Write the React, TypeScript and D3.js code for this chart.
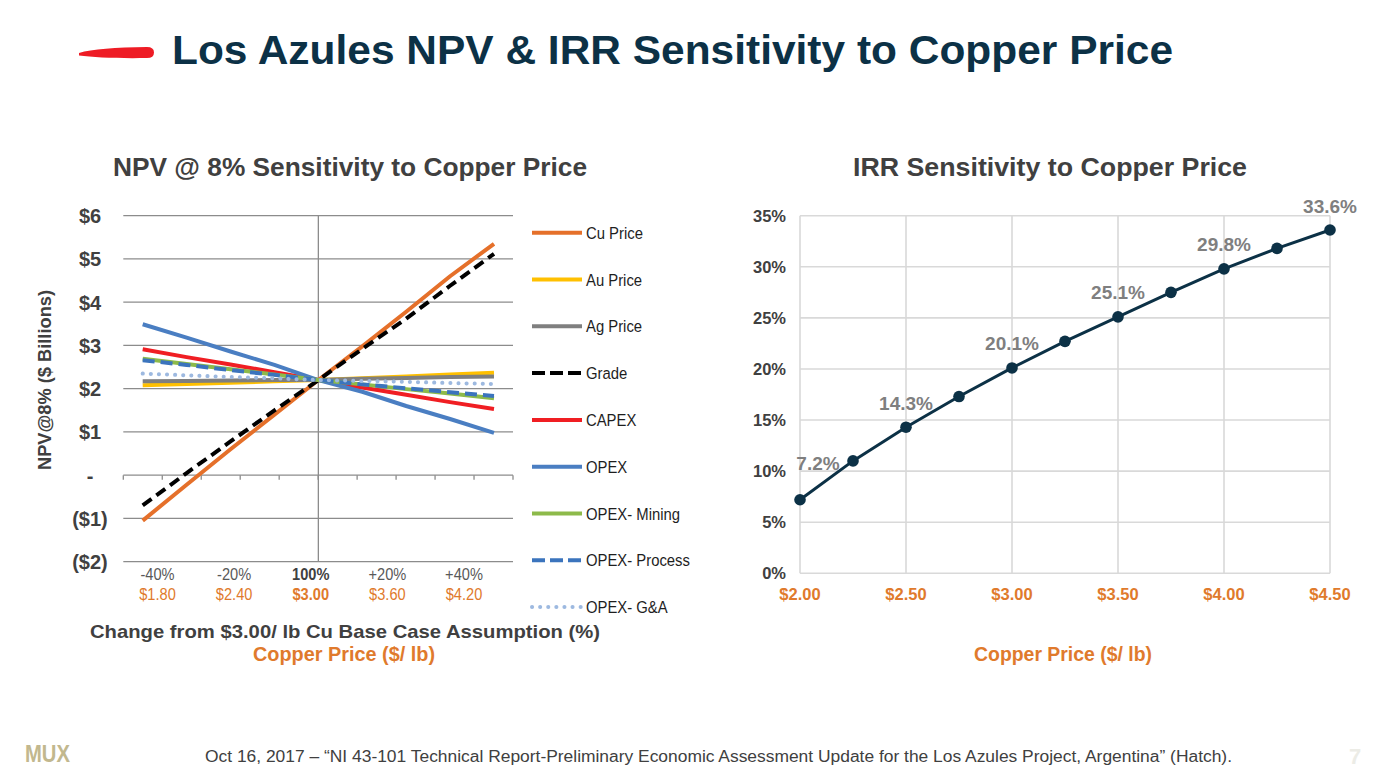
import * as d3 from "d3";

// NPV @ 8% sensitivity: change from the $3.00/lb base case (%)
const sensSteps = [-40, -30, -20, -10, 0, 10, 20, 30, 40];

// NPV ($ billions) for each sensitivity case
const cuPrice = [-1.05, -0.22, 0.6, 1.4, 2.2, 2.98, 3.78, 4.6, 5.35];
const auPrice = [2.08, 2.11, 2.14, 2.17, 2.2, 2.24, 2.28, 2.33, 2.37];
const agPrice = [2.17, 2.18, 2.19, 2.2, 2.2, 2.23, 2.25, 2.27, 2.28];
const grade = [-0.7, 0.05, 0.78, 1.5, 2.2, 2.92, 3.62, 4.38, 5.12];
const capex = [2.91, 2.73, 2.56, 2.38, 2.2, 2.03, 1.86, 1.69, 1.53];
const opex = [3.49, 3.18, 2.86, 2.55, 2.2, 1.93, 1.6, 1.3, 0.98];
const opexMining = [2.69, 2.57, 2.45, 2.33, 2.2, 2.1, 1.99, 1.89, 1.78];
const opexProcess = [2.66, 2.55, 2.43, 2.32, 2.2, 2.1, 2.01, 1.92, 1.83];
const opexGA = [2.35, 2.31, 2.27, 2.24, 2.2, 2.18, 2.16, 2.13, 2.11];

const npvTicks = [6, 5, 4, 3, 2, 1, 0, -1, -2];
const labelSteps = [-40, -20, 0, 20, 40];
const pctLabels = ["-40%", "-20%", "100%", "+20%", "+40%"];
const priceLabels = ["$1.80", "$2.40", "$3.00", "$3.60", "$4.20"];

// IRR vs copper price
const copperPrices = [2.0, 2.25, 2.5, 2.75, 3.0, 3.25, 3.5, 3.75, 4.0, 4.25, 4.5];
const irrValues = [7.2, 11.0, 14.3, 17.3, 20.1, 22.7, 25.1, 27.5, 29.8, 31.8, 33.6];
const irrLabelled = [0, 2, 4, 6, 8, 10];
const irrTicks = [0, 5, 10, 15, 20, 25, 30, 35];
const priceTicks = [2.0, 2.5, 3.0, 3.5, 4.0, 4.5];

const FONT = "'Liberation Sans', Arial, Helvetica, sans-serif";
const DARK = "#404040";
const ORANGE = "#E07A2C";
const NAVY = "#0C3146";

const series = [
  { name: "Cu Price", values: cuPrice, color: "#E5702A", dash: null },
  { name: "Au Price", values: auPrice, color: "#FFC000", dash: null },
  { name: "Ag Price", values: agPrice, color: "#7F7F7F", dash: null },
  { name: "Grade", values: grade, color: "#000000", dash: "11,6" },
  { name: "CAPEX", values: capex, color: "#F01E23", dash: null },
  { name: "OPEX", values: opex, color: "#4A7EC2", dash: null },
  { name: "OPEX- Mining", values: opexMining, color: "#8DBA4A", dash: null },
  { name: "OPEX- Process", values: opexProcess, color: "#3B74BD", dash: "12,6" },
  { name: "OPEX- G&A", values: opexGA, color: "#9DB9E0", dash: "dot" },
];

// narrow-set text (squeezed horizontally)
function Narrow({ x, y, sx = 0.88, anchor = "start", size = 16, weight = "normal", fill = "#222", children }: any) {
  return (
    <text
      transform={`translate(${x},${y}) scale(${sx},1)`}
      textAnchor={anchor}
      fontSize={size}
      fontWeight={weight}
      fill={fill}
      fontFamily={FONT}
    >
      {children}
    </text>
  );
}

function NpvChart() {
  const plotL = 123.3;
  const plotR = 513;
  const y = d3.scaleLinear().domain([-2, 6]).range([561.7, 215.7]);
  const x = d3.scaleLinear().domain([-40, 40]).range([142.7, 494]);
  const labelX = d3.scaleLinear().domain([-40, 40]).range([157.5, 464]);
  const line = d3
    .line<number>()
    .x((_, i) => x(sensSteps[i]))
    .y((d) => y(d));
  const axisTicks = d3.range(11).map((i) => plotL + (i * (plotR - plotL)) / 10);
  const fmt = (v: number) => (v > 0 ? `$${v}` : v < 0 ? `($${-v})` : "-");

  return (
    <g>
      <text x={350} y={175.7} textAnchor="middle" fontSize={26.5} fontWeight="bold" fill={DARK} fontFamily={FONT} textLength={474} lengthAdjust="spacingAndGlyphs">
        NPV @ 8% Sensitivity to Copper Price
      </text>

      {npvTicks.map((v) => (
        <g key={v}>
          <line x1={plotL} x2={plotR} y1={y(v)} y2={y(v)} stroke="#8C8C8C" strokeWidth={1.3} />
          <text x={90} y={y(v) + 7.5} textAnchor="middle" fontSize={20} fontWeight="bold" fill={DARK} fontFamily={FONT}>
            {fmt(v)}
          </text>
        </g>
      ))}
      <line x1={x(0)} x2={x(0)} y1={y(6)} y2={y(-2)} stroke="#8C8C8C" strokeWidth={1.3} />
      {axisTicks.map((t, i) => (
        <line key={i} x1={t} x2={t} y1={y(0)} y2={y(0) + 4.5} stroke="#8C8C8C" strokeWidth={1.3} />
      ))}

      {series.map((s) => (
        <path
          key={s.name}
          d={line(s.values) || ""}
          fill="none"
          stroke={s.color}
          strokeWidth={4}
          strokeDasharray={s.dash === "dot" ? "0.1,8" : s.dash || undefined}
          strokeLinecap={s.dash === "dot" ? "round" : "butt"}
          strokeLinejoin="round"
        />
      ))}

      {labelSteps.map((v, i) => (
        <g key={v}>
          <Narrow x={labelX(v)} y={580} anchor="middle" sx={0.86} size={17} weight={v === 0 ? "bold" : "normal"} fill={v === 0 ? DARK : "#595959"}>
            {pctLabels[i]}
          </Narrow>
          <Narrow x={labelX(v)} y={600} anchor="middle" sx={0.86} size={17} weight={v === 0 ? "bold" : "normal"} fill={ORANGE}>
            {priceLabels[i]}
          </Narrow>
        </g>
      ))}

      {series.map((s, i) => {
        const ly = 232.7 + i * 46.8;
        return (
          <g key={s.name}>
            <line
              x1={532}
              x2={582}
              y1={ly}
              y2={ly}
              stroke={s.color}
              strokeWidth={4}
              strokeDasharray={s.dash === "dot" ? "0.1,8" : s.dash ? "13,5" : undefined}
              strokeLinecap={s.dash === "dot" ? "round" : "butt"}
            />
            <Narrow x={586} y={ly + 6} sx={0.9} size={16.5} fill="#1E1E1E">
              {s.name}
            </Narrow>
          </g>
        );
      })}

      <text transform="translate(44,380) rotate(-90)" textAnchor="middle" dominantBaseline="central" fontSize={19} fontWeight="bold" fill={DARK} fontFamily={FONT} textLength={180} lengthAdjust="spacingAndGlyphs">
        NPV@8% ($ Billions)
      </text>
      <text x={345} y={638} textAnchor="middle" fontSize={19} fontWeight="bold" fill={DARK} fontFamily={FONT} textLength={510} lengthAdjust="spacingAndGlyphs">
        Change from $3.00/ lb Cu Base Case Assumption (%)
      </text>
      <text x={344} y={661} textAnchor="middle" fontSize={19.5} fontWeight="bold" fill={ORANGE} fontFamily={FONT} textLength={182} lengthAdjust="spacingAndGlyphs">
        Copper Price ($/ lb)
      </text>
    </g>
  );
}

function IrrChart() {
  const x = d3.scaleLinear().domain([2, 4.5]).range([800, 1330]);
  const y = d3.scaleLinear().domain([0, 35]).range([573.3, 215.7]);
  const line = d3
    .line<number>()
    .x((_, i) => x(copperPrices[i]))
    .y((d) => y(d));

  return (
    <g>
      <text x={1050} y={175.7} textAnchor="middle" fontSize={26.5} fontWeight="bold" fill={DARK} fontFamily={FONT} textLength={394} lengthAdjust="spacingAndGlyphs">
        IRR Sensitivity to Copper Price
      </text>

      {irrTicks.map((v) => (
        <g key={v}>
          <line x1={x(2)} x2={x(4.5)} y1={y(v)} y2={y(v)} stroke="#D9D9D9" strokeWidth={1.6} />
          <text x={786} y={y(v) + 6} textAnchor="end" fontSize={16.5} fontWeight="bold" fill={DARK} fontFamily={FONT}>
            {`${v}%`}
          </text>
        </g>
      ))}
      {priceTicks.map((p) => (
        <g key={p}>
          <line x1={x(p)} x2={x(p)} y1={y(0)} y2={y(35)} stroke="#D9D9D9" strokeWidth={1.6} />
          <text x={x(p)} y={600} textAnchor="middle" fontSize={16.5} fontWeight="bold" fill={ORANGE} fontFamily={FONT}>
            {`$${p.toFixed(2)}`}
          </text>
        </g>
      ))}

      <path d={line(irrValues) || ""} fill="none" stroke={NAVY} strokeWidth={3} strokeLinejoin="round" />
      {irrValues.map((v, i) => (
        <circle key={i} cx={x(copperPrices[i])} cy={y(v)} r={5.8} fill={NAVY} />
      ))}
      {irrLabelled.map((i) => (
        <text
          key={i}
          x={x(copperPrices[i]) + (i === 0 ? 18 : 0)}
          y={y(irrValues[i]) - (i === 0 ? 30 : 17.5)}
          textAnchor="middle"
          fontSize={19}
          fontWeight="bold"
          fill="#7F7F7F"
          fontFamily={FONT}
        >
          {`${irrValues[i].toFixed(1)}%`}
        </text>
      ))}

      <text x={1063} y={661} textAnchor="middle" fontSize={19.5} fontWeight="bold" fill={ORANGE} fontFamily={FONT} textLength={178} lengthAdjust="spacingAndGlyphs">
        Copper Price ($/ lb)
      </text>
    </g>
  );
}

export default function App() {
  return (
    <svg
      width={1387}
      height={780}
      viewBox="0 0 1387 780"
      style={{ position: "absolute", left: 0, top: 0, background: "#fff" }}
    >
      <rect width={1387} height={780} fill="#fff" />
      <path
        d="M79,53 C92,49 115,47.5 147,47 Q154,47 154,52.5 Q154,58 147,58 C118,58.5 94,57.5 79,55.5 Z"
        fill="#EE1C25"
      />
      <text x={172} y={64} fontSize={41} fontWeight="bold" fill={NAVY} fontFamily={FONT} textLength={1001} lengthAdjust="spacingAndGlyphs">
        Los Azules NPV &amp; IRR Sensitivity to Copper Price
      </text>

      <NpvChart />
      <IrrChart />

      <text x={25} y={762} fontSize={23} fontWeight="bold" fill="#C2B88E" fontFamily={FONT} textLength={45} lengthAdjust="spacingAndGlyphs">
        MUX
      </text>
      <text x={205} y={762} fontSize={16} fill={DARK} fontFamily={FONT} textLength={1027} lengthAdjust="spacingAndGlyphs">
        Oct 16, 2017 – “NI 43-101 Technical Report-Preliminary Economic Assessment Update for the Los Azules Project, Argentina” (Hatch).
      </text>
      <text x={1349} y={764} fontSize={22} fontWeight="bold" fill="#ECECE6" fontFamily={FONT}>
        7
      </text>
    </svg>
  );
}
